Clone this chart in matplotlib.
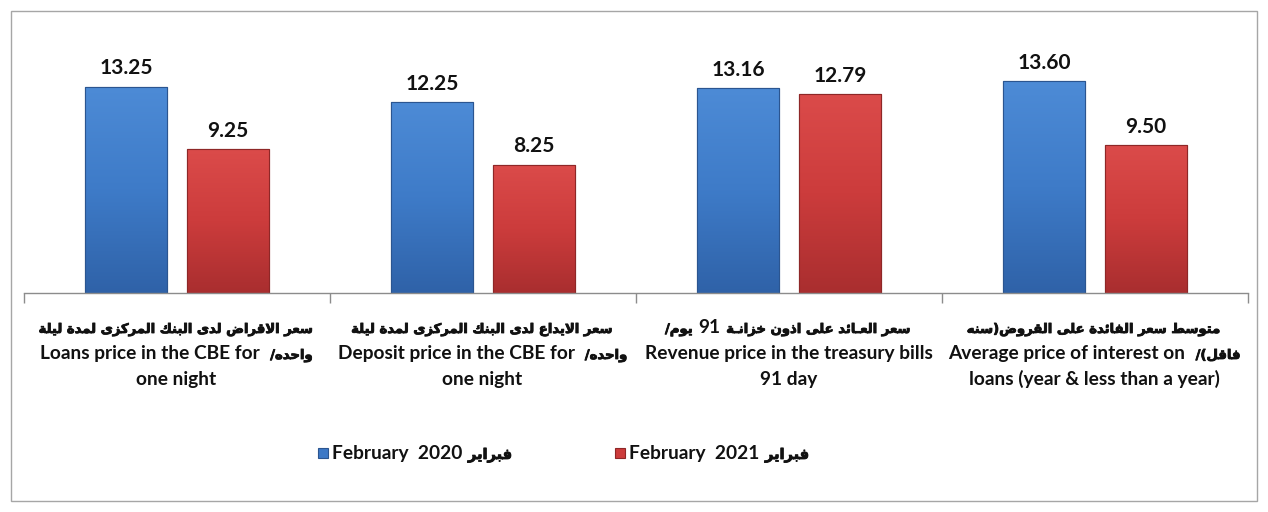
import numpy as np
import matplotlib
matplotlib.use("Agg")
import matplotlib.pyplot as plt
import matplotlib.patheffects as pe
from matplotlib.colors import LinearSegmentedColormap
from matplotlib.patches import Rectangle

# ---------------------------------------------------------------- data
categories = [
    "سعر الاقراض لدى البنك المركزى لمدة ليلة\nواحده/  Loans price in the CBE for\none night",
    "سعر الايداع لدى البنك المركزى لمدة ليلة\nواحده/  Deposit price in the CBE for\none night",
    "سعر العـائد على اذون خزانـة 91 يوم/\nRevenue price in the treasury bills\n91 day",
    "متوسط سعر الفائدة على القروض(سنه\nفاقل)/  Average price of interest on\nloans (year & less than a year)",
]
feb_2020 = [13.25, 12.25, 13.16, 13.60]
feb_2021 = [9.25, 8.25, 12.79, 9.50]
series_labels = ["February  2020 فبراير", "February  2021 فبراير"]

# ------------------------------------------------ arabic text helpers
TATWEEL = "\u0640"
_SPEC = [
    ("ء", 0xFE80, 1), ("آ", 0xFE81, 2), ("أ", 0xFE83, 2), ("ؤ", 0xFE85, 2),
    ("إ", 0xFE87, 2), ("ئ", 0xFE89, 4), ("ا", 0xFE8D, 2), ("ب", 0xFE8F, 4),
    ("ة", 0xFE93, 2), ("ت", 0xFE95, 4), ("ث", 0xFE99, 4), ("ج", 0xFE9D, 4),
    ("ح", 0xFEA1, 4), ("خ", 0xFEA5, 4), ("د", 0xFEA9, 2), ("ذ", 0xFEAB, 2),
    ("ر", 0xFEAD, 2), ("ز", 0xFEAF, 2), ("س", 0xFEB1, 4), ("ش", 0xFEB5, 4),
    ("ص", 0xFEB9, 4), ("ض", 0xFEBD, 4), ("ط", 0xFEC1, 4), ("ظ", 0xFEC5, 4),
    ("ع", 0xFEC9, 4), ("غ", 0xFECD, 4), ("ف", 0xFED1, 4), ("ق", 0xFED5, 4),
    ("ك", 0xFED9, 4), ("ل", 0xFEDD, 4), ("م", 0xFEE1, 4), ("ن", 0xFEE5, 4),
    ("ه", 0xFEE9, 4), ("و", 0xFEED, 2), ("ى", 0xFEEF, 2), ("ي", 0xFEF1, 4),
]
FORMS = {c: tuple(chr(start + k) for k in range(n)) for c, start, n in _SPEC}
LAM_ALEF = {"آ": ("\uFEF5", "\uFEF6"), "أ": ("\uFEF7", "\uFEF8"),
            "إ": ("\uFEF9", "\uFEFA"), "ا": ("\uFEFB", "\uFEFC")}
MIRROR = {"(": ")", ")": "("}


def _joinable(c):
    return c == TATWEEL or (c in FORMS and len(FORMS[c]) > 1)


def shape(s):
    """Replace Arabic letters by their contextual presentation forms."""
    out, i, prev_fwd = [], 0, False
    while i < len(s):
        c = s[i]
        if c == "ل" and i + 1 < len(s) and s[i + 1] in LAM_ALEF:
            out.append(LAM_ALEF[s[i + 1]][1 if prev_fwd else 0])
            prev_fwd = False
            i += 2
            continue
        if c in FORMS:
            forms = FORMS[c]
            nxt = s[i + 1] if i + 1 < len(s) else ""
            nxt_ok = len(forms) == 4 and _joinable(nxt)
            if len(forms) == 4:
                g = forms[3] if (prev_fwd and nxt_ok) else forms[1] if prev_fwd \
                    else forms[2] if nxt_ok else forms[0]
            elif len(forms) == 2:
                g = forms[1] if prev_fwd else forms[0]
            else:
                g = forms[0]
            out.append(g)
            prev_fwd = len(forms) == 4
        elif c == TATWEEL:
            out.append(c)
            prev_fwd = True
        else:
            out.append(c)
            prev_fwd = False
        i += 1
    return "".join(out)


def _is_ar(c):
    return "\u0600" <= c <= "\u06FF" or "\uFE70" <= c <= "\uFEFF"


def visual_line(s):
    """Shape and reorder one line of mixed Arabic/Latin text for display."""
    if not any(_is_ar(c) for c in s):
        return s
    s = shape(s)
    raw = ["R" if _is_ar(c) else "EN" if c.isdigit() else "L" if c.isalpha() else "N"
           for c in s]
    base = next(t for t in raw if t in ("R", "L"))
    types, last = [], base
    for t in raw:
        if t in ("R", "L"):
            last = t
            types.append(t)
        elif t == "EN":
            types.append("L" if last == "L" else "NUM")
        else:
            types.append("N")
    strong = ["R" if t in ("R", "NUM") else t for t in types]
    i = 0
    while i < len(s):
        if strong[i] == "N":
            j = i
            while j < len(s) and strong[j] == "N":
                j += 1
            before = strong[i - 1] if i > 0 else base
            after = strong[j] if j < len(s) else base
            d = before if before == after else base
            for k in range(i, j):
                types[k] = d
            i = j
        else:
            i += 1
    base_lvl = 1 if base == "R" else 0
    table = {"L": 0, "R": 1, "NUM": 2} if base_lvl == 0 else {"L": 2, "R": 1, "NUM": 2}
    levels = [table[t] for t in types]
    chars = [MIRROR.get(c, c) if lv % 2 else c for c, lv in zip(s, levels)]
    for lvl in range(max(levels), 0, -1):
        i = 0
        while i < len(chars):
            if levels[i] >= lvl:
                j = i
                while j < len(chars) and levels[j] >= lvl:
                    j += 1
                chars[i:j] = chars[i:j][::-1]
                levels[i:j] = levels[i:j][::-1]
                i = j
            else:
                i += 1
    return "".join(chars)


# ------------------------------------------------------------ drawing
LAT_FONT = "Lato"
AR_FONT = "DejaVu Sans"
plt.rcParams["font.family"] = [LAT_FONT, AR_FONT]

W, H = 1268, 512
fig = plt.figure(figsize=(W / 100, H / 100), dpi=100)
renderer = fig.canvas.get_renderer()
ax = fig.add_axes([24 / W, (H - 293) / H, (1248 - 24) / W, (293 - 44) / H])

LAT_SIZE = 13.8
AR_SIZE = 9.5
TEXT_COLOR = "#111111"
AR_EFFECT = [pe.withStroke(linewidth=0.6, foreground=TEXT_COLOR)]


def _style(kind, lat_size, ar_size):
    if kind == "ar":
        return dict(family=[AR_FONT], fontsize=ar_size, path_effects=AR_EFFECT)
    return dict(family=[LAT_FONT, AR_FONT], fontsize=lat_size)


def _width(txt, style):
    t = fig.text(0, 0, txt, fontweight="bold", **style)
    w = t.get_window_extent(renderer).width
    t.remove()
    return w


def _kinds(vis):
    kinds = ["sp" if c == " " else "ar" if _is_ar(c)
             else "la" if c.isalnum() else "pu" for c in vis]
    # punctuation touching Arabic letters is set with them
    for i, k in enumerate(kinds):
        if k == "pu":
            nb = []
            for step in (-1, 1):
                j = i + step
                while 0 <= j < len(kinds) and kinds[j] == "pu":
                    j += step
                if 0 <= j < len(kinds):
                    nb.append(kinds[j])
            kinds[i] = "ar" if "ar" in nb else "la"
    # spaces inside a run stay with that run
    out = list(kinds)
    for i, k in enumerate(kinds):
        if k == "sp":
            left = next((kinds[j] for j in range(i - 1, -1, -1) if kinds[j] != "sp"), None)
            right = next((kinds[j] for j in range(i + 1, len(kinds)) if kinds[j] != "sp"), None)
            if left == right and left is not None:
                out[i] = left
    return out


def draw_mixed(x_px, base_px, vis, ha="center", lat_size=LAT_SIZE, ar_size=AR_SIZE):
    """Draw one display-ordered line, Arabic runs in the Arabic face."""
    tokens = []
    for c, k in zip(vis, _kinds(vis)):
        if tokens and tokens[-1][1] == k and k != "sp":
            tokens[-1][0] += c
        else:
            tokens.append([c, k])
    items = []
    for txt, kind in tokens:
        if kind == "sp":
            st = _style("la", lat_size, ar_size)
            items.append((None, _width("x x", st) - _width("xx", st)))
            continue
        st = _style(kind, lat_size, ar_size)
        t = fig.text(0, 0, txt, fontweight="bold", ha="left", va="baseline",
                     color=TEXT_COLOR, **st)
        items.append((t, t.get_window_extent(renderer).width + 1))
    total = sum(w for _, w in items)
    x = x_px - total / 2 if ha == "center" else x_px
    for t, w in items:
        if t is not None:
            t.set_position((x / W, 1 - base_px / H))
        x += w


x = np.arange(len(categories))
width = 0.268
offset = 0.167
b1 = ax.bar(x - offset, feb_2020, width, color="#3C78C6", edgecolor="#2B5590",
            linewidth=0.8, zorder=2, label=series_labels[0])
b2 = ax.bar(x + offset, feb_2021, width, color="#CC3B3B", edgecolor="#8E2727",
            linewidth=0.8, zorder=2, label=series_labels[1])

# soft vertical shading on each bar
grad = np.linspace(0, 1, 256).reshape(-1, 1)
shades = [(b1, ["#2F62A8", "#3E7BC8", "#4D8BD6"]),
          (b2, ["#A92E2F", "#CC3C3C", "#DB4B4A"])]
for bars, cols in shades:
    cmap = LinearSegmentedColormap.from_list("shade", cols)
    for rect in bars:
        x0, y0 = rect.get_xy()
        im = ax.imshow(grad, extent=[x0, x0 + rect.get_width(), y0, y0 + rect.get_height()],
                       origin="lower", aspect="auto", cmap=cmap, zorder=2.1,
                       interpolation="bilinear")
        im.set_clip_path(rect)
        ax.add_patch(Rectangle((x0, y0), rect.get_width(), rect.get_height(), fill=False,
                               edgecolor=rect.get_edgecolor(), linewidth=0.8, zorder=2.2))

for bars in (b1, b2):
    ax.bar_label(bars, fmt="%.2f", padding=6, fontsize=15, fontweight="bold",
                 color="#111111", family=LAT_FONT)

ax.set_xlim(-0.5, len(categories) - 0.5)
ax.set_ylim(0, 16)

for side in ("top", "right", "left"):
    ax.spines[side].set_visible(False)
ax.spines["bottom"].set_color("#8C8C8C")
ax.spines["bottom"].set_linewidth(1.0)
ax.set_yticks([])
ax.set_xticks(np.arange(len(categories) + 1) - 0.5)
ax.set_xticklabels([])
ax.tick_params(axis="x", which="major", length=7, color="#8C8C8C", width=1.0)

# category labels under each group
line_base = [333, 359, 385]
for xi, label in zip(x, categories):
    cx = ax.transData.transform((xi, 0))[0]
    for base_px, line in zip(line_base, label.split("\n")):
        draw_mixed(cx, base_px, visual_line(line))

# legend
legend_x = [318, 615]
for lx, bars, lab in zip(legend_x, (b1, b2), series_labels):
    fig.patches.append(Rectangle((lx / W, 1 - 458 / H), 10 / W, 10 / H,
                                 transform=fig.transFigure,
                                 facecolor=bars[0].get_facecolor(),
                                 edgecolor=bars[0].get_edgecolor(), linewidth=0.8))
    draw_mixed(lx + 14, 459, visual_line(lab), ha="left", ar_size=AR_SIZE + 1)

fig.patches.append(Rectangle((11 / W, 11 / H), (1257 - 11) / W, (501 - 11) / H,
                             transform=fig.transFigure, fill=False,
                             edgecolor="#A6A6A6", linewidth=1.0))

fig.savefig("out.png", dpi=100)
